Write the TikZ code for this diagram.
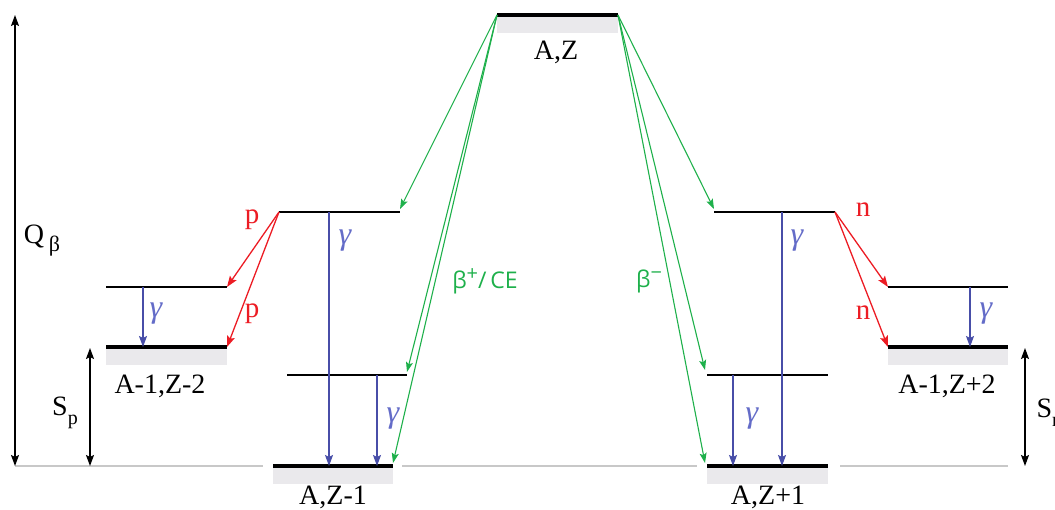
\documentclass[tikz,border=0pt]{standalone}
\usepackage{fontspec}
\setmainfont{Liberation Serif}
\newfontfamily\betasans{Open Sans}
\usetikzlibrary{arrows.meta}
\definecolor{betagreen}{RGB}{30,176,75}
\definecolor{partred}{RGB}{236,28,36}
\definecolor{gammablue}{RGB}{72,78,168}
\definecolor{gammatext}{RGB}{100,108,200}
\definecolor{bandgrey}{RGB}{234,233,236}
\definecolor{baselinegrey}{RGB}{200,200,200}
\tikzset{
  groundlevel/.style={line width=3.6pt},
  upperlevel/.style={line width=2.4pt},
  lowlevel/.style={line width=1.8pt},
  band/.style={fill=bandgrey},
  betaarrow/.style={betagreen,line width=1.1pt,-{Stealth[length=10pt,width=7pt,inset=2pt]}},
  partarrow/.style={partred,line width=1.3pt,-{Stealth[length=11pt,width=8pt,inset=2pt]}},
  gammaarrow/.style={gammablue,line width=1.3pt,-{Stealth[length=11pt,width=8pt,inset=2pt]}},
  gapstyle/.style={black,line width=1.3pt,{Stealth[length=11pt,width=8pt,inset=2pt]}-{Stealth[length=11pt,width=8pt,inset=2pt]}},
  nuclabel/.style={font=\fontsize{28}{32}\selectfont},
  partlabel/.style={partred,font=\fontsize{29}{32}\selectfont},
  gammalabel/.style={gammatext,font=\fontsize{32}{36}\selectfont\itshape},
  betalabel/.style={betagreen,font=\betasans\fontsize{23}{26}\selectfont}
}

\begin{document}
\begin{tikzpicture}[x=1pt,y=-1pt]
  \useasboundingbox (0,0) rectangle (1055,510);
  \coordinate (AZl) at (497,15);  \coordinate (AZr) at (618,15);
  \coordinate (L1l) at (279,212); \coordinate (L1r) at (400,212);
  \coordinate (L2l) at (287,375); \coordinate (L2r) at (407,375);
  \coordinate (L0l) at (273,466); \coordinate (L0r) at (393,466);
  \coordinate (P1l) at (106,287); \coordinate (P1r) at (227,287);
  \coordinate (P0l) at (106,347); \coordinate (P0r) at (227,347);
  \coordinate (R1l) at (714,212); \coordinate (R1r) at (835,212);
  \coordinate (R2l) at (707,375); \coordinate (R2r) at (828,375);
  \coordinate (R0l) at (707,466); \coordinate (R0r) at (828,466);
  \coordinate (N1l) at (888,287); \coordinate (N1r) at (1008,287);
  \coordinate (N0l) at (888,347); \coordinate (N0r) at (1008,347);
  \coordinate (base) at (15,466);

  \draw[baselinegrey,line width=1.4pt] (base) -- (263,466) (402,466) -- (697,466) (840,466) -- (N0r |- base);

  \fill[band] (AZl) rectangle ([yshift=-18pt]AZr);
  \fill[band] (L0l) rectangle ([yshift=-18pt]L0r);
  \fill[band] (R0l) rectangle ([yshift=-18pt]R0r);
  \fill[band] (P0l) rectangle ([yshift=-18pt]P0r);
  \fill[band] (N0l) rectangle ([yshift=-18pt]N0r);

  \draw[groundlevel] (AZl) -- (AZr);
  \draw[groundlevel] (L0l) -- (L0r);
  \draw[groundlevel] (R0l) -- (R0r);
  \draw[groundlevel] (P0l) -- (P0r);
  \draw[groundlevel] (N0l) -- (N0r);
  \draw[upperlevel] (L1l) -- (L1r);
  \draw[upperlevel] (R1l) -- (R1r);
  \draw[upperlevel] (P1l) -- (P1r);
  \draw[upperlevel] (N1l) -- (N1r);
  \draw[lowlevel] (L2l) -- (L2r);
  \draw[lowlevel] (R2l) -- (R2r);

  \node[nuclabel] (labAZ) at (556,52) {A,Z};
  \node[nuclabel] (labL0) at (333,497) {A,Z-1};
  \node[nuclabel] (labR0) at (768,497) {A,Z+1};
  \node[nuclabel] (labP0) at (160,386) {A-1,Z-2};
  \node[nuclabel] (labN0) at (947,386) {A-1,Z+2};

  \draw[betaarrow] (AZl) -- ([yshift=3pt]L1r);
  \draw[betaarrow] (AZl) -- ([yshift=3pt]L2r);
  \draw[betaarrow] (AZl) -- ([yshift=3pt]L0r);
  \draw[betaarrow] (AZr) -- ([yshift=3pt]R1l);
  \draw[betaarrow] (AZr) -- ([xshift=-2pt,yshift=5pt]R2l);
  \draw[betaarrow] (AZr) -- ([xshift=-2pt,yshift=3pt]R0l);
  \node[betalabel] (labbp) at (485,281) {β\raisebox{8pt}{\fontsize{20}{22}\selectfont +}/\,CE};
  \node[betalabel] (labbm) at (649,281) {β\raisebox{8pt}{\fontsize{20}{22}\selectfont −}};

  \draw[partarrow] (L1l) -- (P1r);
  \draw[partarrow] (L1l) -- (P0r);
  \draw[partarrow] (R1r) -- (N1l);
  \draw[partarrow] (R1r) -- (N0l);
  \node[partlabel] (labp1) at (252,220) {p};
  \node[partlabel] (labp2) at (252,314) {p};
  \node[partlabel] (labn1) at (863,210) {n};
  \node[partlabel] (labn2) at (863,313) {n};

  \coordinate (gP) at (143,287);
  \coordinate (gL1) at (329,212);
  \coordinate (gL2) at (377,375);
  \coordinate (gR1) at (782,212);
  \coordinate (gR2) at (733,375);
  \coordinate (gN) at (970,287);
  \draw[gammaarrow] (gP) -- (gP |- P0l);
  \draw[gammaarrow] (gL1) -- (gL1 |- L0l);
  \draw[gammaarrow] (gL2) -- (gL2 |- L0l);
  \draw[gammaarrow] (gR1) -- (gR1 |- R0l);
  \draw[gammaarrow] (gR2) -- (gR2 |- R0l);
  \draw[gammaarrow] (gN) -- (gN |- N0l);
  \node[gammalabel] (labgP) at (156,314) {γ};
  \node[gammalabel] (labgL1) at (345,241) {γ};
  \node[gammalabel] (labgL2) at (393,419) {γ};
  \node[gammalabel] (labgR1) at (797,241) {γ};
  \node[gammalabel] (labgR2) at (752,419) {γ};
  \node[gammalabel] (labgN) at (986,314) {γ};

  \coordinate (qtop) at (15,15);
  \coordinate (sptop) at (90,348);
  \coordinate (sntop) at (1025,348);
  \draw[gapstyle] (qtop) -- (base);
  \draw[gapstyle] (sptop) -- (sptop |- base);
  \draw[gapstyle] (sntop) -- (sntop |- base);
  \node[nuclabel] (labQ) at (42,241) {Q\,\raisebox{-8pt}{\fontsize{22}{24}\selectfont β}};
  \node[nuclabel] (labSp) at (65,413) {S\raisebox{-9pt}{\fontsize{20}{22}\selectfont p}};
  \node[nuclabel,anchor=west] (labSn) at (1033,413) {S\raisebox{-9pt}{\fontsize{20}{22}\selectfont n}};
\end{tikzpicture}
\end{document}
